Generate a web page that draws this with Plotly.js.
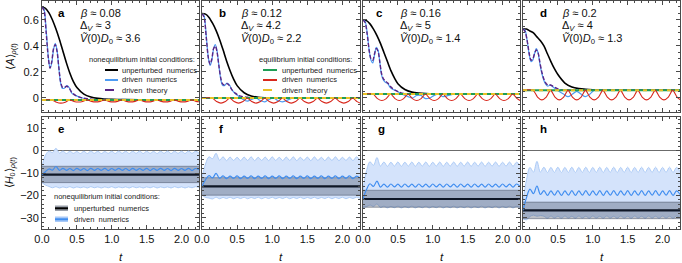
<!DOCTYPE html>
<html><head><meta charset="utf-8">
<script src="https://cdn.plot.ly/plotly-3.0.1.min.js"></script>
<style>html,body{margin:0;padding:0;background:#fff}#chart{width:682px;height:263px}</style>
</head><body><div id="chart"></div><script>
// ---------- DATA ----------
const panelLetters = ['a','b','c','d','e','f','g','h'];
const betaVals = ['0.08','0.12','0.16','0.2'];
const deltaVals = ['3','4.2','5','4'];
const vdVals = ['3.6','2.2','1.4','1.3'];

// top row: <A>  (time grids)
const tK = [0,0.05,0.1,0.15,0.2,0.25,0.3,0.35,0.4,0.45,0.5,0.6,0.7,0.8,0.9,1.0,1.2,1.5,2.25];
const blackA = [0.70,0.69,0.655,0.60,0.53,0.45,0.36,0.27,0.19,0.125,0.08,0.03,0.008,-0.003,-0.008,-0.011,-0.013,-0.014,-0.015];
const blackB = [0.65,0.645,0.62,0.575,0.52,0.45,0.37,0.285,0.21,0.145,0.095,0.04,0.015,0.005,0.002,0.001,0.0,0.0,0.0];
const blackC = [0.60,0.595,0.57,0.53,0.48,0.42,0.35,0.28,0.21,0.155,0.11,0.065,0.045,0.037,0.033,0.031,0.03,0.03,0.03];
const blackD = [0.53,0.53,0.515,0.50,0.47,0.44,0.40,0.34,0.28,0.225,0.18,0.115,0.085,0.072,0.066,0.063,0.061,0.06,0.06];

const tN = [0,0.03,0.06,0.09,0.115,0.14,0.165,0.19,0.215,0.24,0.265,0.29,0.32,0.355,0.39,0.43,0.48,0.52,0.58,0.645,0.71,0.77,0.83,0.895,0.96,1.02,1.08,1.145,1.3,1.6,2.0,2.25];
const blueA = [0.70,0.68,0.52,0.32,0.23,0.27,0.37,0.42,0.37,0.24,0.12,0.075,0.075,0.095,0.08,0.035,0.02,0.01,0.0,-0.01,-0.015,-0.02,-0.015,-0.01,-0.015,-0.02,-0.015,-0.01,-0.015,-0.015,-0.015,-0.015];
const blueB = [0.65,0.63,0.48,0.31,0.25,0.29,0.38,0.41,0.36,0.25,0.15,0.10,0.095,0.115,0.10,0.06,0.03,0.015,-0.01,-0.025,-0.01,0.0,-0.02,-0.03,-0.01,0.0,-0.02,-0.03,0.0,0.0,0.0,0.0];
const blueC = [0.60,0.59,0.50,0.36,0.29,0.27,0.33,0.39,0.37,0.28,0.18,0.14,0.12,0.11,0.08,0.065,0.055,0.04,0.025,0.01,0.0,0.02,0.02,-0.005,0.0,0.02,0.03,0.01,0.03,0.03,0.03,0.03];
const blueD = [0.53,0.52,0.44,0.33,0.28,0.29,0.34,0.38,0.35,0.27,0.20,0.15,0.11,0.09,0.10,0.085,0.065,0.05,0.03,0.01,0.03,0.05,0.03,0.01,0.03,0.06,0.06,0.06,0.06,0.06,0.06,0.06];
const purpA = [0.70,0.67,0.50,0.31,0.23,0.28,0.38,0.41,0.36,0.24,0.13,0.085,0.08,0.09,0.075,0.04,0.02,0.01,0.0,-0.005,-0.01,-0.015,-0.015,-0.015,-0.015,-0.015,-0.015,-0.015,-0.015,-0.015,-0.015,-0.015];
const purpB = [0.65,0.62,0.47,0.31,0.26,0.30,0.38,0.40,0.35,0.25,0.16,0.11,0.10,0.11,0.095,0.06,0.035,0.02,0.01,0.005,0.0,0.0,0.0,0.0,0.0,0.0,0.0,0.0,0.0,0.0,0.0,0.0];
const purpC = [0.60,0.58,0.49,0.36,0.30,0.29,0.34,0.38,0.36,0.28,0.19,0.15,0.13,0.115,0.09,0.07,0.055,0.045,0.035,0.03,0.03,0.03,0.03,0.03,0.03,0.03,0.03,0.03,0.03,0.03,0.03,0.03];
const purpD = [0.53,0.51,0.44,0.34,0.29,0.30,0.34,0.37,0.35,0.28,0.21,0.16,0.12,0.10,0.10,0.09,0.075,0.065,0.06,0.06,0.06,0.06,0.06,0.06,0.06,0.06,0.06,0.06,0.06,0.06,0.06,0.06];

const tR = [0,0.145,0.208,0.27,0.333,0.395,0.458,0.52,0.583,0.645,
            0.708,0.77,0.833,0.895,0.958,1.02,1.083,1.145,1.208,1.27,
            1.333,1.395,1.458,1.52,1.583,1.645,1.708,1.77,1.833,1.895,
            1.958,2.02,2.083,2.145,2.208,2.25];
const redA = [-0.015,-0.015,-0.033,-0.040,-0.033,-0.015,-0.027,-0.031,-0.027,-0.015,
              -0.026,-0.030,-0.026,-0.015,-0.026,-0.030,-0.026,-0.015,-0.026,-0.030,
              -0.026,-0.015,-0.026,-0.030,-0.026,-0.015,-0.026,-0.030,-0.026,-0.015,
              -0.026,-0.030,-0.026,-0.015,-0.026,-0.029];
const redB = [0,0,-0.028,-0.040,-0.028,0,-0.028,-0.040,-0.028,0,
              -0.028,-0.040,-0.028,0,-0.028,-0.040,-0.028,0,-0.028,-0.040,
              -0.028,0,-0.028,-0.040,-0.028,0,-0.028,-0.040,-0.028,0,
              -0.028,-0.040,-0.028,0,-0.028,-0.039];
const redC = [0.03,0.03,-0.005,-0.02,-0.005,0.03,-0.005,-0.02,-0.005,0.03,
              -0.005,-0.02,-0.005,0.03,-0.005,-0.02,-0.005,0.03,-0.005,-0.02,
              -0.005,0.03,-0.005,-0.02,-0.005,0.03,-0.005,-0.02,-0.005,0.03,
              -0.005,-0.02,-0.005,0.03,-0.005,-0.019];
const redD = [0.06,0.06,0.007,-0.015,0.007,0.06,0.007,-0.015,0.007,0.06,
              0.007,-0.015,0.007,0.06,0.007,-0.015,0.007,0.06,0.007,-0.015,
              0.007,0.06,0.007,-0.015,0.007,0.06,0.007,-0.015,0.007,0.06,
              0.007,-0.015,0.007,0.06,0.007,-0.013];
const tEq = [0, 2.25];
const eqA = [-0.015,-0.015];
const eqB = [0.0,0.0];
const eqC = [0.03,0.03];
const eqD = [0.06,0.06];

// bottom row: <H0>
const tB = [0,0.05,0.1,0.15,0.2,0.25,0.3,0.35,0.4,0.45,
            0.5,0.55,0.6,0.65,0.7,0.75,0.8,0.85,0.9,0.95,
            1,1.05,1.1,1.15,1.2,1.25,1.3,1.35,1.4,1.45,
            1.5,1.55,1.6,1.65,1.7,1.75,1.8,1.85,1.9,1.95,
            2,2.05,2.1,2.15,2.2,2.25];
const eUp = [-7.0,-2.0,-0.2,-0.9,1.0,-1.1,-0.2,-1.3,-0.3,-1.2,
             -0.4,-1.3,-0.3,-1.3,-0.2,-1.2,-0.3,-1.3,-0.4,-1.2,
             -0.3,-1.3,-0.2,-1.2,-0.3,-1.3,-0.3,-1.2,-0.2,-1.3,
             -0.3,-1.2,-0.4,-1.3,-0.3,-1.2,-0.2,-1.3,-0.3,-1.2,
             -0.3,-1.3,-0.2,-1.2,-0.3,-1.1];
const eMid = [-10.7,-9.4,-8.2,-8.7,-7.1,-8.8,-7.9,-8.8,-8.0,-8.9,
              -7.9,-8.8,-8.0,-8.9,-7.9,-8.8,-8.0,-8.8,-7.9,-8.9,
              -8.0,-8.8,-7.9,-8.8,-8.0,-8.9,-7.9,-8.8,-8.0,-8.8,
              -7.9,-8.9,-8.0,-8.8,-7.9,-8.8,-8.0,-8.9,-7.9,-8.8,
              -8.0,-8.8,-7.9,-8.9,-8.0,-8.6];
const eLow = [-14.3,-15.4,-16.0,-16.6,-16.1,-16.7,-16.2,-16.6,-16.1,-16.7,
              -16.2,-16.6,-16.2,-16.7,-16.1,-16.6,-16.2,-16.7,-16.2,-16.6,
              -16.1,-16.7,-16.2,-16.6,-16.2,-16.7,-16.1,-16.6,-16.2,-16.7,
              -16.2,-16.6,-16.1,-16.7,-16.2,-16.6,-16.2,-16.7,-16.1,-16.6,
              -16.2,-16.7,-16.2,-16.6,-16.1,-16.5];
const fUp = [-12.1,-6.0,-2.8,-3.6,-1.2,-4.3,-2.8,-4.5,-2.9,-4.4,
             -3.0,-4.5,-2.9,-4.4,-2.8,-4.5,-3.0,-4.4,-2.9,-4.5,
             -2.8,-4.4,-3.0,-4.5,-2.9,-4.4,-2.8,-4.5,-3.0,-4.4,
             -2.9,-4.5,-2.8,-4.4,-3.0,-4.5,-2.9,-4.4,-2.8,-4.5,
             -3.0,-4.4,-2.9,-4.5,-2.8,-4.2];
const fMid = [-16.0,-13.0,-11.2,-12.2,-10.2,-12.4,-11.3,-12.5,-11.4,-12.4,
              -11.3,-12.5,-11.4,-12.4,-11.3,-12.5,-11.4,-12.4,-11.3,-12.5,
              -11.4,-12.4,-11.3,-12.5,-11.4,-12.4,-11.3,-12.5,-11.4,-12.4,
              -11.3,-12.5,-11.4,-12.4,-11.3,-12.5,-11.4,-12.4,-11.3,-12.5,
              -11.4,-12.4,-11.3,-12.5,-11.4,-12.2];
const fLow = [-19.9,-20.9,-21.2,-21.6,-20.8,-21.5,-20.9,-21.4,-20.8,-21.5,
              -20.9,-21.4,-20.8,-21.5,-20.9,-21.4,-20.8,-21.5,-20.9,-21.4,
              -20.8,-21.5,-20.9,-21.4,-20.8,-21.5,-20.9,-21.4,-20.8,-21.5,
              -20.9,-21.4,-20.8,-21.5,-20.9,-21.4,-20.8,-21.5,-20.9,-21.4,
              -20.8,-21.5,-20.9,-21.4,-20.8,-21.3];
const gUp = [-17.7,-9.0,-5.0,-6.6,-3.1,-6.9,-5.1,-7.0,-5.2,-6.9,
             -5.1,-7.0,-5.2,-6.9,-5.1,-7.0,-5.2,-6.9,-5.1,-7.0,
             -5.2,-6.9,-5.1,-7.0,-5.2,-6.9,-5.1,-7.0,-5.2,-6.9,
             -5.1,-7.0,-5.2,-6.9,-5.1,-7.0,-5.2,-6.9,-5.1,-7.0,
             -5.2,-6.9,-5.1,-7.0,-5.2,-6.6];
const gMid = [-21.6,-17.4,-14.8,-16.0,-13.6,-16.3,-15.0,-16.3,-14.9,-16.2,
              -15.0,-16.3,-14.9,-16.2,-15.0,-16.3,-14.9,-16.2,-15.0,-16.3,
              -14.9,-16.2,-15.0,-16.3,-14.9,-16.2,-15.0,-16.3,-14.9,-16.2,
              -15.0,-16.3,-14.9,-16.2,-15.0,-16.3,-14.9,-16.2,-15.0,-16.3,
              -14.9,-16.2,-15.0,-16.3,-14.9,-16.0];
const gLow = [-25.3,-25.0,-24.3,-24.9,-23.8,-25.4,-24.8,-25.6,-24.9,-25.5,
              -24.8,-25.6,-24.9,-25.5,-24.8,-25.6,-24.9,-25.5,-24.8,-25.6,
              -24.9,-25.5,-24.8,-25.6,-24.9,-25.5,-24.8,-25.6,-24.9,-25.5,
              -24.8,-25.6,-24.9,-25.5,-24.8,-25.6,-24.9,-25.5,-24.8,-25.6,
              -24.9,-25.5,-24.8,-25.6,-24.9,-25.4];
const hUp = [-23.0,-13.0,-7.5,-9.6,-4.8,-9.6,-7.4,-9.8,-7.5,-9.7,
             -7.4,-9.8,-7.5,-9.7,-7.4,-9.8,-7.5,-9.7,-7.4,-9.8,
             -7.5,-9.7,-7.4,-9.8,-7.5,-9.7,-7.4,-9.8,-7.5,-9.7,
             -7.4,-9.8,-7.5,-9.7,-7.4,-9.8,-7.5,-9.7,-7.4,-9.8,
             -7.5,-9.7,-7.4,-9.8,-7.5,-9.4];
const hMid = [-26.7,-21.0,-17.2,-19.2,-15.8,-19.6,-17.9,-20.0,-18.0,-19.9,
              -17.9,-20.0,-18.0,-19.9,-17.9,-20.0,-18.0,-19.9,-17.9,-20.0,
              -18.0,-19.9,-17.9,-20.0,-18.0,-19.9,-17.9,-20.0,-18.0,-19.9,
              -17.9,-20.0,-18.0,-19.9,-17.9,-20.0,-18.0,-19.9,-17.9,-20.0,
              -18.0,-19.9,-17.9,-20.0,-18.0,-19.6];
const hLow = [-30.4,-30.9,-29.4,-28.8,-29.3,-29.0,-29.3,-30.2,-29.2,-30.1,
              -29.3,-30.2,-29.2,-30.1,-29.3,-30.2,-29.2,-30.1,-29.3,-30.2,
              -29.2,-30.1,-29.3,-30.2,-29.2,-30.1,-29.3,-30.2,-29.2,-30.1,
              -29.3,-30.2,-29.2,-30.1,-29.3,-30.2,-29.2,-30.1,-29.3,-30.2,
              -29.2,-30.1,-29.3,-30.2,-29.2,-30.0];
const unpertH = [-10.7,-16.0,-21.6,-26.7];
const unpertHi = [-7.0,-12.1,-17.7,-23.0];
const unpertLo = [-14.3,-19.9,-25.3,-30.4];

// ---------- BUILD ----------
const W = 682, H = 263;
const X = p => p / W, Y = p => 1 - p / H;
const colXpx = [[42,199],[202,360],[363,520],[523,680]];
const topYpx = [1,112], botYpx = [117,229];

const topBlack=[blackA,blackB,blackC,blackD], topBlue=[blueA,blueB,blueC,blueD],
      topPurp=[purpA,purpB,purpC,purpD], topRed=[redA,redB,redC,redD], topEq=[eqA,eqB,eqC,eqD];
const bUp=[eUp,fUp,gUp,hUp], bMid=[eMid,fMid,gMid,hMid], bLow=[eLow,fLow,gLow,hLow];

const C = {black:'#000000', blue:'#4d9bf3', purple:'#5a2585', green:'#1f9d55', red:'#d8281d', yellow:'#e8c126',
           bandBlue:'#d4e3fb', bandBlueEdge:'#a7c7f5', bandGray:'rgba(55,65,85,0.33)', bandGrayEdge:'rgba(55,65,85,0.55)',
           meanBlue:'#3f8df0', frame:'#4a4a4a'};

const traces = [];
const base = {mode:'lines', hoverinfo:'skip', showlegend:false};
for (let i=0;i<4;i++){
  const xa='x'+(i+1), ya='y'+(i+1);
  traces.push({...base, x:tK, y:topBlack[i], xaxis:xa, yaxis:ya, line:{color:C.black,width:1.6,shape:'spline',smoothing:0.8}});
  traces.push({...base, x:tN, y:topBlue[i], xaxis:xa, yaxis:ya, line:{color:C.blue,width:1.2,shape:'spline',smoothing:0.8}});
  traces.push({...base, x:tN, y:topPurp[i], xaxis:xa, yaxis:ya, line:{color:C.purple,width:1.4,dash:'4px,2px',shape:'spline',smoothing:0.8}});
  traces.push({...base, x:tEq, y:topEq[i], xaxis:xa, yaxis:ya, line:{color:C.green,width:2}});
  traces.push({...base, x:tR, y:topRed[i], xaxis:xa, yaxis:ya, line:{color:C.red,width:1.1,shape:'spline',smoothing:0.6}});
  traces.push({...base, x:tEq, y:topEq[i], xaxis:xa, yaxis:ya, line:{color:C.yellow,width:2,dash:'4px,4px'}});
}
for (let i=0;i<4;i++){
  const xa='x'+(i+5), ya='y'+(i+5);
  traces.push({...base, x:tB, y:bLow[i], xaxis:xa, yaxis:ya, line:{color:C.bandBlueEdge,width:0.9,shape:'spline'}});
  traces.push({...base, x:tB, y:bUp[i], xaxis:xa, yaxis:ya, fill:'tonexty', fillcolor:C.bandBlue, line:{color:C.bandBlueEdge,width:0.9,shape:'spline'}});
  traces.push({...base, x:tEq, y:[unpertLo[i],unpertLo[i]], xaxis:xa, yaxis:ya, line:{color:C.bandGrayEdge,width:0.8}});
  traces.push({...base, x:tEq, y:[unpertHi[i],unpertHi[i]], xaxis:xa, yaxis:ya, fill:'tonexty', fillcolor:C.bandGray, line:{color:C.bandGrayEdge,width:0.8}});
  traces.push({...base, x:tEq, y:[unpertH[i],unpertH[i]], xaxis:xa, yaxis:ya, line:{color:'#0f1726',width:2.2}});
  traces.push({...base, x:tB, y:bMid[i], xaxis:xa, yaxis:ya, line:{color:C.meanBlue,width:1.2,shape:'spline'}});
}

const layout = {
  width:W, height:H, margin:{l:0,r:0,t:0,b:0}, paper_bgcolor:'#fff', plot_bgcolor:'rgba(0,0,0,0)',
  font:{family:'Liberation Sans, Arial, sans-serif', size:11, color:'#111'},
  showlegend:false, annotations:[], shapes:[]
};
function axisCommon(){
  return {ticks:'inside', ticklen:4, tickwidth:1, tickcolor:C.frame, mirror:'allticks', showline:true,
          linecolor:C.frame, linewidth:1, showgrid:false, zeroline:false, fixedrange:true,
          tickfont:{family:'Liberation Sans, Arial, sans-serif', size:11, color:'#111'}};
}
for (let k=0;k<8;k++){
  const col=k%4, top=k<4;
  const xa = axisCommon(), ya = axisCommon();
  xa.domain=[X(colXpx[col][0]), X(colXpx[col][1])];
  xa.range=[0,2.25]; xa.dtick=0.5; xa.tick0=0; xa.tickformat='.1f';
  xa.minor={ticks:'inside', ticklen:2, dtick:0.1, tickcolor:C.frame, showgrid:false};
  xa.showticklabels=!top; xa.anchor='y'+(k+1);
  const yp = top?topYpx:botYpx;
  ya.domain=[Y(yp[1]), Y(yp[0])];
  if (top){ ya.range=[-0.108,0.746]; ya.dtick=0.2; ya.tick0=0; ya.minor={ticks:'inside',ticklen:2,dtick:0.05,tickcolor:C.frame,showgrid:false}; }
  else { ya.range=[-35,15]; ya.dtick=10; ya.tick0=0; ya.minor={ticks:'inside',ticklen:2,dtick:2,tickcolor:C.frame,showgrid:false};
         ya.zeroline=true; ya.zerolinecolor='#6b6b6b'; ya.zerolinewidth=1; }
  ya.showticklabels=(col===0); ya.anchor='x'+(k+1);
  layout['xaxis'+(k+1)]=xa; layout['yaxis'+(k+1)]=ya;
}
const ann = layout.annotations, shp = layout.shapes;
function txt(x,y,t,opt){ ann.push(Object.assign({xref:'paper',yref:'paper',x:X(x),y:Y(y),text:t,showarrow:false,xanchor:'left',yanchor:'middle',font:{size:11,color:'#111'}},opt||{})); }
const letterX = [61,222,380,543,61,221,382,543];
const parX = [78,239,398,560];
for (let k=0;k<8;k++) txt(letterX[k], k<4?13:129, '<b>'+panelLetters[k]+'</b>', {xanchor:'center', font:{size:11.5,color:'#000'}});
for (let i=0;i<4;i++){
  txt(parX[i],13,'<i>β</i> ≈ '+betaVals[i]);
  txt(parX[i],26,'Δ<sub><i>V</i></sub> ≈ '+deltaVals[i]);
  txt(parX[i],39,'<i>Ṽ</i>(0)<i>D</i><sub>0</sub> ≈ '+vdVals[i]);
}
// legends (top a / top b)
const lf = {size:7.5,color:'#222'};
txt(87,59,'nonequilibrium initial conditions:',{font:lf});
const legRowsY=[70,80,90];
const legA=[['unperturbed  numerics',C.black,'solid'],['driven  numerics',C.blue,'solid'],['driven  theory',C.purple,'dash']];
const legB=[['unperturbed  numerics',C.green,'solid'],['driven  numerics',C.red,'solid'],['driven  theory',C.yellow,'dash']];
legA.forEach((r,j)=>{ shp.push({type:'line',xref:'paper',yref:'paper',x0:X(105),x1:X(118),y0:Y(legRowsY[j]),y1:Y(legRowsY[j]),line:{color:r[1],width:2,dash:r[2]}}); txt(120,legRowsY[j],r[0],{font:lf}); });
txt(257,59,'equilibrium initial conditions:',{font:lf});
legB.forEach((r,j)=>{ shp.push({type:'line',xref:'paper',yref:'paper',x0:X(263),x1:X(277),y0:Y(legRowsY[j]),y1:Y(legRowsY[j]),line:{color:r[1],width:2,dash:r[2]}}); txt(280,legRowsY[j],r[0],{font:lf}); });
// legend bottom e
txt(52,196,'nonequilibrium initial conditions:',{font:lf});
shp.push({type:'rect',xref:'paper',yref:'paper',x0:X(55),x1:X(68),y0:Y(205.5),y1:Y(211),fillcolor:'#9aa0aa',line:{width:0}});
shp.push({type:'line',xref:'paper',yref:'paper',x0:X(55),x1:X(68),y0:Y(208.3),y1:Y(208.3),line:{color:'#000',width:2}});
txt(72,208.3,'unperturbed  numerics',{font:lf});
shp.push({type:'rect',xref:'paper',yref:'paper',x0:X(55),x1:X(68),y0:Y(216.5),y1:Y(222),fillcolor:'#a9c9f6',line:{width:0}});
shp.push({type:'line',xref:'paper',yref:'paper',x0:X(55),x1:X(68),y0:Y(219.3),y1:Y(219.3),line:{color:C.meanBlue,width:2}});
txt(72,219.3,'driven  numerics',{font:lf});
// axis titles
txt(10,56.5,'⟨<i>A</i>⟩<sub><i>ρ</i>(<i>t</i>)</sub>',{xanchor:'center',textangle:-90,font:{size:10.5,color:'#111'}});
txt(10,173,'⟨<i>H</i><sub>0</sub>⟩<sub><i>ρ</i>(<i>t</i>)</sub>',{xanchor:'center',textangle:-90,font:{size:10.5,color:'#111'}});
for (let i=0;i<4;i++) txt((colXpx[i][0]+colXpx[i][1])/2,257,'<i>t</i>',{xanchor:'center',font:{size:11.5,color:'#111'}});

Plotly.newPlot('chart', traces, layout, {staticPlot:true, displayModeBar:false});
</script></body></html>
